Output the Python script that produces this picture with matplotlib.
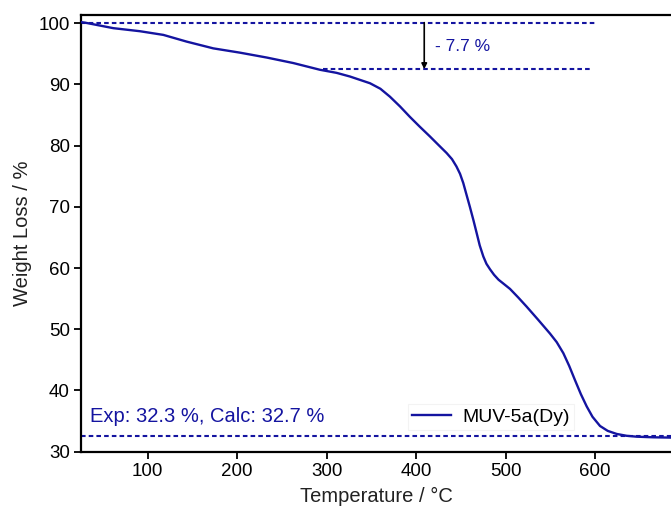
import matplotlib
matplotlib.use('Agg')
import matplotlib.pyplot as plt

plt.rcParams['font.family'] = ['Liberation Sans', 'DejaVu Sans']

# TGA curve
temp = [25, 30, 61.6, 91.4, 117.5, 143.6, 173.3, 203, 233, 262.7, 292.5, 311,
        326, 348.4, 360, 370.7, 382, 393, 404, 415.4, 425, 434, 440, 445,
        449, 452.6, 456, 460, 464, 467.6, 471, 475, 478.5, 482.5, 487, 492,
        498, 504.8, 514, 523.4, 536, 549.5, 557, 564.4, 571, 577.4, 584,
        590.5, 597, 605.4, 614, 624, 635, 646.4, 665, 685]
weight = [100.2, 100.1, 99.2, 98.7, 98.1, 97.0, 95.9, 95.2, 94.4, 93.5, 92.4, 91.9,
          91.3, 90.2, 89.3, 88.0, 86.4, 84.7, 83.1, 81.5, 80.1, 78.8, 77.8, 76.6,
          75.4, 73.9, 72.1, 70.0, 67.8, 65.7, 63.7, 61.9, 60.7, 59.8, 58.9, 58.1,
          57.4, 56.6, 55.2, 53.7, 51.6, 49.3, 47.9, 46.1, 44.0, 41.7, 39.4,
          37.4, 35.7, 34.2, 33.4, 32.9, 32.6, 32.45, 32.35, 32.3]

ref_top = 100.1
ref_step = 92.5
ref_final = 32.55
label_name = 'MUV-5a(Dy)'
label_step = '- 7.7 %'
label_res = 'Exp: 32.3 %, Calc: 32.7 %'

blue = '#1414a0'
fig = plt.figure(figsize=(6.71, 5.12), dpi=100)
ax = fig.add_axes([81 / 671, 1 - 452.3 / 512, 1 - 81 / 671, (452.3 - 14.7) / 512])

ax.plot(temp, weight, color=blue, lw=1.7, label=label_name, zorder=3,
        solid_joinstyle='round')

dash = dict(color=blue, lw=1.5, ls=(0, (2.2, 1.5)))
ax.plot([25, 600], [ref_top, ref_top], **dash)
ax.plot([296, 595], [ref_step, ref_step], **dash)
ax.plot([25, 690], [ref_final, ref_final], **dash)

ax.annotate('', xy=(409, ref_step), xytext=(409, ref_top),
            arrowprops=dict(arrowstyle='-|>', color='black', lw=1.2,
                            mutation_scale=8, shrinkA=0, shrinkB=0))
ax.text(421, 96.2, label_step, color=blue, fontsize=12.5, va='center')
ax.text(35, 35.8, label_res, color=blue, fontsize=14.5, va='center')

leg = ax.legend(loc='center', bbox_to_anchor=(0.695, 0.081), fontsize=14,
                frameon=True, fancybox=False, handlelength=2.0, handletextpad=0.6,
                borderpad=0.2, borderaxespad=0)
leg.get_frame().set_edgecolor('#f0f0f0')
leg.get_frame().set_linewidth(0.8)

ax.set_xlim(25.5, 684.7)
ax.set_ylim(29.9, 101.4)
ax.set_xticks([100, 200, 300, 400, 500, 600])
ax.set_yticks([30, 40, 50, 60, 70, 80, 90, 100])
ax.spines['right'].set_visible(False)
for s in ['left', 'bottom', 'top']:
    ax.spines[s].set_linewidth(1.6)
ax.tick_params(direction='out', length=5, width=1.3, labelsize=13.5, pad=3)

ax.set_xlabel('Temperature / °C', fontsize=14.5, color='#222222', labelpad=5)
ax.set_ylabel('Weight Loss / %', fontsize=14.5, color='#222222', labelpad=5)

plt.savefig('out.png', dpi=100)
